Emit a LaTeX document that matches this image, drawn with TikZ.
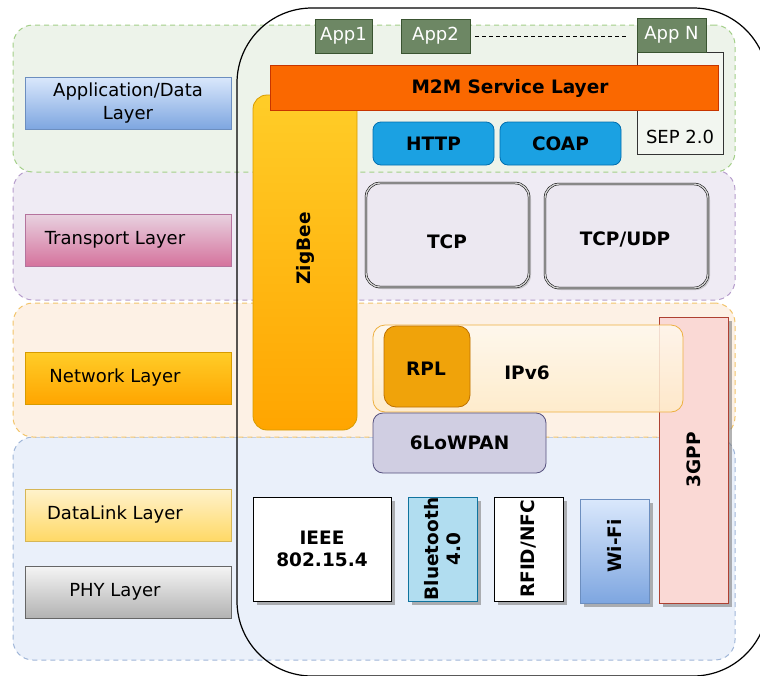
\documentclass[tikz,border=0pt]{standalone}
\usepackage{fontspec}
\setmainfont{DejaVu Sans}
\usetikzlibrary{positioning,shadows}

\definecolor{appbg}{HTML}{EDF3EA}
\definecolor{appline}{HTML}{A3CF88}
\definecolor{trbg}{HTML}{EFEBF4}
\definecolor{trline}{HTML}{B69DCC}
\definecolor{netbg}{HTML}{FDF1E5}
\definecolor{netline}{HTML}{F2C46A}
\definecolor{linkbg}{HTML}{EAF0FA}
\definecolor{linkline}{HTML}{A0B6D8}
\definecolor{appgreen}{HTML}{6D8764}
\definecolor{appdark}{HTML}{3A5431}
\definecolor{sepfill}{HTML}{F2F6F0}
\definecolor{m2mfill}{HTML}{FA6800}
\definecolor{m2mline}{HTML}{C73500}
\definecolor{ylwtop}{HTML}{FFCD28}
\definecolor{ylwbot}{HTML}{FFA500}
\definecolor{ylwline}{HTML}{D79B00}
\definecolor{webfill}{HTML}{1BA1E2}
\definecolor{webline}{HTML}{006EAF}
\definecolor{tcpfill}{HTML}{ECE8F1}
\definecolor{ipvtop}{HTML}{FFF9EE}
\definecolor{ipvbot}{HTML}{FFEBC8}
\definecolor{ipvline}{HTML}{EDB040}
\definecolor{rplfill}{HTML}{F0A30A}
\definecolor{rplline}{HTML}{BD7000}
\definecolor{lowfill}{HTML}{D0CEE2}
\definecolor{lowline}{HTML}{56517E}
\definecolor{gppfill}{HTML}{FAD9D5}
\definecolor{gppline}{HTML}{AE4132}
\definecolor{btfill}{HTML}{B1DDF0}
\definecolor{btline}{HTML}{10739E}
\definecolor{bluetop}{HTML}{DAE8FC}
\definecolor{bluebot}{HTML}{7EA6E0}
\definecolor{blueline}{HTML}{6C8EBF}
\definecolor{pinktop}{HTML}{E8D2E0}
\definecolor{pinkbot}{HTML}{D5739D}
\definecolor{pinkline}{HTML}{B5739D}
\definecolor{dltop}{HTML}{FFF2CC}
\definecolor{dlbot}{HTML}{FFD966}
\definecolor{dlline}{HTML}{D6B656}

\begin{document}
\begin{tikzpicture}[x=1pt,y=-1pt,line width=0.8pt,
    band/.style={draw,line width=1pt,dash pattern=on 5pt off 4pt,rounded corners=20pt,minimum width=722pt},
    lbl/.style={draw,minimum width=206pt,minimum height=52pt,align=center,font=\fontsize{18}{23}\selectfont},
    app/.style={draw=appdark,fill=appgreen,text=white,minimum height=34pt,font=\fontsize{18}{22}\selectfont},
    proto/.style={font=\fontsize{18.5}{22}\selectfont\bfseries,align=center},
    boxshadow/.style={drop shadow={shadow xshift=4pt,shadow yshift=-4pt,fill=black!50,opacity=0.6}},
    glassy/.style={draw=black,double=black!18,double distance=1.4pt,line width=0.5pt,rounded corners=14pt,fill=tcpfill,
        drop shadow={shadow xshift=2pt,shadow yshift=-2pt,fill=black!30,opacity=0.6}}]

    \useasboundingbox (0,0) rectangle (760,675);

    \node[band,draw=linkline,fill=linkbg,minimum height=223pt] (bandlink) at (374,548.5) {};
    \node[band,draw=netline,fill=netbg,minimum height=134pt] (bandnet) at (374,370) {};
    \node[band,draw=trline,fill=trbg,minimum height=130pt] (bandtr) at (374,235) {};
    \node[band,draw=appline,fill=appbg,minimum height=147pt] (bandapp) at (374,98.5) {};

    \node[draw,line width=1.2pt,rounded corners=75pt,minimum width=531pt,minimum height=668pt] (stack) at (502.5,342) {};

    \node[lbl,draw=blueline,top color=bluetop,bottom color=bluebot] (lapp) at (128,103) {Application/Data\\Layer};
    \node[lbl,draw=pinkline,top color=pinktop,bottom color=pinkbot] (ltr) at (128,240) {Transport Layer\hspace{26pt}};
    \node[lbl,draw=ylwline,top color=ylwtop,bottom color=ylwbot] (lnet) at (128,378) {Network Layer\hspace{26pt}};
    \node[lbl,draw=dlline,top color=dltop,bottom color=dlbot] (ldl) at (128,515) {DataLink Layer\hspace{26pt}};
    \node[lbl,draw=black!60,top color=black!4,bottom color=black!30] (lphy) at (128,592) {PHY Layer\hspace{26pt}};

    \node[draw=ylwline,top color=ylwtop,bottom color=ylwbot,rounded corners=14pt,minimum width=104pt,minimum height=335pt] (zig) at (305,262.5) {};
    \node[proto,rotate=90] (zigtxt) at ([yshift=14pt]zig.center) {ZigBee};

    \node[draw=black!80,fill=sepfill,minimum width=86pt,minimum height=102pt] (sep) at (680,103) {};
    \node[above=7pt of sep.south,font=\fontsize{18}{22}\selectfont] (septxt) {SEP 2.0};

    \node[app,minimum width=57pt] (app1) at (343.5,36) {App1};
    \node[app,minimum width=69pt] (app2) at (435.5,36) {App2};
    \node[app,minimum width=69pt] (appn) at (671.5,35) {App N};
    \draw[dash pattern=on 4pt off 3pt,line width=1pt,shorten <=5pt,shorten >=9pt] (app2.east) -- (app2.east -| appn.west);

    \node[draw=m2mline,fill=m2mfill,minimum width=448pt,minimum height=45pt] (m2m) at (494,87.5) {};
    \node[proto] (m2mtxt) at (510,88) {M2M Service Layer};

    \node[proto,draw=webline,fill=webfill,rounded corners=8pt,minimum width=121pt,minimum height=43pt] (http) at (433.5,143.5) {HTTP};
    \node[proto,draw=webline,fill=webfill,rounded corners=8pt,minimum width=121pt,minimum height=43pt] (coap) at (560.5,143.5) {COAP};

    \node[glassy,minimum width=163pt,minimum height=104pt] (tcp) at (447.5,235) {};
    \node[proto] (tcptxt) at (447,242) {TCP};
    \node[glassy,minimum width=163pt,minimum height=104pt] (tcpudp) at (626.5,236) {};
    \node[proto] (tcpudptxt) at (625,239) {TCP/UDP};

    \node[draw=gppline,fill=gppfill,boxshadow,minimum width=69pt,minimum height=286pt] (gpp) at (693.5,460) {};
    \node[proto,rotate=90] (gpptxt) at (gpp) {3GPP};

    \node[draw=ipvline,top color=ipvtop,bottom color=ipvbot,fill opacity=0.85,rounded corners=12pt,minimum width=310pt,minimum height=87pt] (ipv6) at (528,368.5) {};
    \node[proto] (ipv6txt) at (527,373) {IPv6};
    \node[draw=rplline,fill=rplfill,rounded corners=12pt,minimum width=86pt,minimum height=81pt] (rpl) at (427,366.5) {};
    \node[proto] (rpltxt) at (426,369) {RPL};
    \node[proto,draw=lowline,fill=lowfill,rounded corners=10pt,minimum width=173pt,minimum height=60pt] (lowpan) at (459.5,443) {6LoWPAN};

    \node[proto,draw=black,fill=white,boxshadow,minimum width=138pt,minimum height=104pt] (ieee) at (322,549) {IEEE\\802.15.4};
    \node[draw=btline,fill=btfill,boxshadow,minimum width=69pt,minimum height=104pt] (bt) at (442.5,549) {};
    \node[proto,rotate=90,inner sep=0pt] (bttxt) at (bt) {Bluetooth\\4.0};
    \node[draw=black,fill=white,boxshadow,minimum width=69pt,minimum height=104pt] (rfid) at (528.5,549) {};
    \node[proto,rotate=90,inner sep=0pt] (rfidtxt) at (rfid) {RFID/NFC};
    \node[draw=blueline,top color=bluetop,bottom color=bluebot,boxshadow,minimum width=69pt,minimum height=104pt] (wifi) at (614.5,551) {};
    \node[proto,rotate=90] (wifitxt) at ([yshift=5pt]wifi.center) {Wi-Fi};

\end{tikzpicture}
\end{document}
